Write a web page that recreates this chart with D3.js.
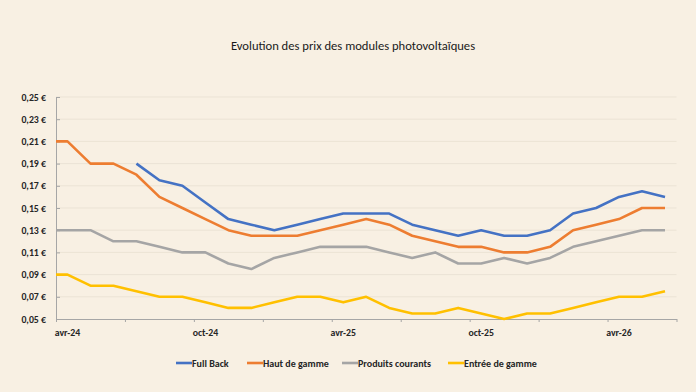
<!DOCTYPE html>
<html><head><meta charset="utf-8">
<script src="https://cdn.jsdelivr.net/npm/d3@7"></script>
<style>
html,body{margin:0;padding:0;background:#f8f0e3;}
svg{display:block;font-family:Carlito,Calibri,Lato,"Open Sans",sans-serif;}
</style></head>
<body>
<svg id="c" width="696" height="392"></svg>
<script>
const title = "Evolution des prix des modules photovoltaïques";
const months = ["mars-24","avr-24","mai-24","juin-24","juil-24","août-24","sept-24","oct-24","nov-24","déc-24",
  "janv-25","févr-25","mars-25","avr-25","mai-25","juin-25","juil-25","août-25","sept-25","oct-25","nov-25","déc-25",
  "janv-26","févr-26","mars-26","avr-26","mai-26","juin-26"];
const fullBack = [null,null,null,null,0.19,0.175,0.17,0.155,0.14,0.135,0.13,0.135,0.14,0.145,0.145,0.145,0.135,0.13,0.125,0.13,0.125,0.125,0.13,0.145,0.15,0.16,0.165,0.16];
const hautDeGamme = [0.21,0.21,0.19,0.19,0.18,0.16,0.15,0.14,0.13,0.125,0.125,0.125,0.13,0.135,0.14,0.135,0.125,0.12,0.115,0.115,0.11,0.11,0.115,0.13,0.135,0.14,0.15,0.15];
const produitsCourants = [0.13,0.13,0.13,0.12,0.12,0.115,0.11,0.11,0.10,0.095,0.105,0.11,0.115,0.115,0.115,0.11,0.105,0.11,0.10,0.10,0.105,0.10,0.105,0.115,0.12,0.125,0.13,0.13];
const entreeDeGamme = [0.09,0.09,0.08,0.08,0.075,0.07,0.07,0.065,0.06,0.06,0.065,0.07,0.07,0.065,0.07,0.06,0.055,0.055,0.06,0.055,0.05,0.055,0.055,0.06,0.065,0.07,0.07,0.075];
const seriesNames = ["Full Back","Haut de gamme","Produits courants","Entrée de gamme"];
const seriesColors = ["#4472c4","#ed7d31","#a5a5a5","#ffc000"];
const yTicks = [0.05,0.07,0.09,0.11,0.13,0.15,0.17,0.19,0.21,0.23,0.25];
const xTickLabels = ["avr-24","oct-24","avr-25","oct-25","avr-26"];

const svg = d3.select("#c");
const x0 = 56, x1 = 676.5, yTop = 97, yBot = 319;
const x = d3.scaleLinear().domain([0.5, 27.5]).range([x0, x1]);
const y = d3.scaleLinear().domain([0.05, 0.25]).range([yBot, yTop]);

svg.append("text").attr("x", 353).attr("y", 50).attr("text-anchor","middle")
  .attr("font-size", 12.6).attr("fill","#1a1a1a").text(title);

svg.append("g").selectAll("line").data(yTicks.slice(1)).join("line")
  .attr("x1", x0).attr("x2", x1).attr("y1", d=>y(d)).attr("y2", d=>y(d))
  .attr("stroke", "#ebe3d5").attr("stroke-width", 1);

const yAxis = d3.axisLeft(y).tickValues(yTicks).tickSizeInner(-4).tickSizeOuter(0).tickPadding(10)
  .tickFormat(d => d3.format(".2f")(d).replace(".", ",") + " €");
const gy = svg.append("g").attr("transform", `translate(${x0},0)`).call(yAxis);
gy.select(".domain").attr("stroke", "#a6a6a6");
gy.selectAll(".tick line").attr("stroke", "#a6a6a6");
gy.selectAll(".tick text").attr("font-size", 9.8).attr("font-weight", "bold").attr("fill", "#262626")
  .attr("font-family","Carlito,Calibri,Lato,sans-serif");

const tickIdx = d3.range(0.5, 28, 3);
const xAxis = d3.axisBottom(x).tickValues(tickIdx).tickSizeInner(3).tickSizeOuter(0).tickFormat("");
const gx = svg.append("g").attr("transform", `translate(0,${yBot})`).call(xAxis);
gx.select(".domain").attr("stroke", "#a6a6a6");
gx.selectAll(".tick line").attr("stroke", "#a6a6a6");
svg.append("g").selectAll("text").data(xTickLabels).join("text")
  .attr("x", d => x(months.indexOf(d))).attr("y", 336).attr("text-anchor","middle")
  .attr("font-size", 9.8).attr("font-weight","bold").attr("fill","#262626").text(d=>d);

svg.append("clipPath").attr("id","clip").append("rect")
  .attr("x", x0).attr("y", 0).attr("width", x1 - x0).attr("height", 392);

const allSeries = [fullBack, hautDeGamme, produitsCourants, entreeDeGamme];
const line = d3.line().defined(d => d != null).x((d,i) => x(i)).y(d => y(d));
const gl = svg.append("g").attr("clip-path","url(#clip)");
[3,2,1,0].forEach(k => {
  gl.append("path").datum(allSeries[k]).attr("d", line)
    .attr("fill","none").attr("stroke", seriesColors[k]).attr("stroke-width", 2.6)
    .attr("stroke-linejoin","round");
});

const legX = [176, 247, 342, 448];
const lg = svg.append("g");
seriesNames.forEach((n,i) => {
  lg.append("line").attr("x1", legX[i]).attr("x2", legX[i]+16).attr("y1", 363).attr("y2", 363)
    .attr("stroke", seriesColors[i]).attr("stroke-width", 2.6);
  lg.append("text").attr("x", legX[i]+16).attr("y", 366.5).attr("font-size", 10).attr("font-weight","bold")
    .attr("fill","#262626").text(n);
});
</script>
</body></html>
